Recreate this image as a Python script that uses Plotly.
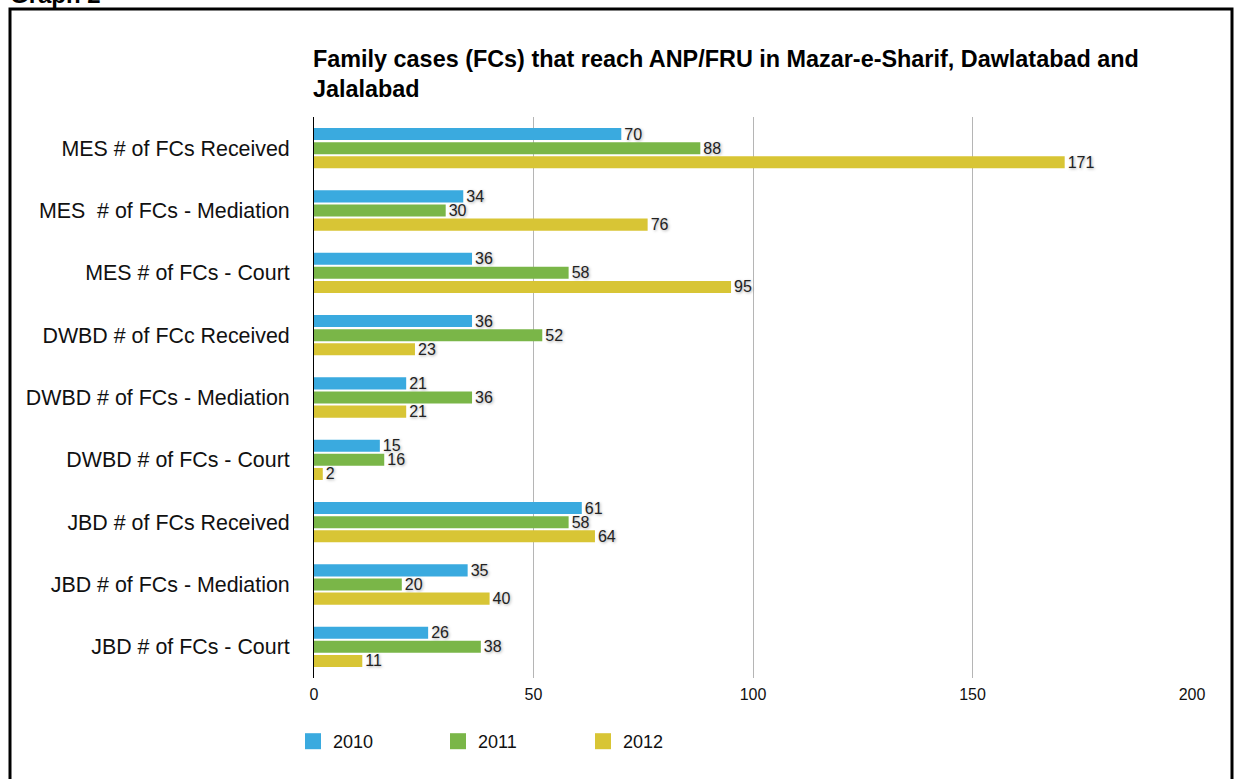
import plotly.graph_objects as go

categories = [
    "MES # of FCs Received",
    "MES \u00a0# of FCs - Mediation",
    "MES # of FCs - Court",
    "DWBD # of FCc Received",
    "DWBD # of FCs - Mediation",
    "DWBD # of FCs - Court",
    "JBD # of FCs Received",
    "JBD # of FCs - Mediation",
    "JBD # of FCs - Court",
]
series_names = ["2010", "2011", "2012"]
values_2010 = [70, 34, 36, 36, 21, 15, 61, 35, 26]
values_2011 = [88, 30, 58, 52, 36, 16, 58, 20, 38]
values_2012 = [171, 76, 95, 23, 21, 2, 64, 40, 11]
x_ticks = [0, 50, 100, 150, 200]
title_text = "Family cases (FCs) that reach ANP/FRU in Mazar-e-Sharif, Dawlatabad and<br>Jalalabad"

colors = ["#3aaadf", "#7ab648", "#d8c535"]
FONT = "Liberation Sans, Arial, Helvetica, sans-serif"

W, H = 1235, 779
ML, MR, MT, MB = 314, 43, 117, 101
PW, PH = W - ML - MR, H - MT - MB

def px_x(p):
    return (p - ML) / PW

def px_y(p):
    return (H - MB - p) / PH

fig = go.Figure()
for name, vals, col in zip(series_names, [values_2010, values_2011, values_2012], colors):
    fig.add_trace(go.Bar(
        y=categories, x=vals, name=name, orientation="h",
        marker=dict(color=col, line=dict(width=0)),
        text=[str(v) for v in vals], textposition="outside",
        constraintext="none",
        textfont=dict(family=FONT, size=16, color="#222222",
                      shadow="1px 1px 3px rgba(0,0,0,0.35)"),
        cliponaxis=False, showlegend=False, legendgroup=name,
    ))
# legend entries (larger square swatches like the reference)
for name, col in zip(series_names, colors):
    fig.add_trace(go.Scatter(
        x=[None], y=[None], mode="markers", name=name, legendgroup=name,
        marker=dict(symbol="square", size=18, color=col), showlegend=True,
    ))

fig.update_layout(
    width=W, height=H,
    margin=dict(l=ML, r=MR, t=MT, b=MB, autoexpand=False),
    paper_bgcolor="white", plot_bgcolor="white",
    barmode="group", bargap=0.32, bargroupgap=0.15,
    font=dict(family=FONT, color="#111111"),
    showlegend=True,
    legend=dict(orientation="h", x=px_x(293), xanchor="left",
                y=px_y(723), yanchor="top", itemsizing="trace",
                font=dict(family=FONT, size=18, color="#111111"),
                entrywidth=100, traceorder="normal"),
    xaxis=dict(range=[0, 200], tickvals=x_ticks, showgrid=True,
               gridcolor="#b5b5b5", gridwidth=1, zeroline=False,
               showline=False, ticks="", tickfont=dict(family=FONT, size=16, color="#111111"),
               ticklabelstandoff=5),
    yaxis=dict(autorange="reversed", showline=True, linecolor="#000000",
               linewidth=1, ticks="", showgrid=False,
               tickfont=dict(family=FONT, size=21.4, color="#111111"),
               ticklabelstandoff=19),
    annotations=[
        dict(text="<b>" + title_text.replace("<br>", "</b><br><b>") + "</b>",
             xref="paper", yref="paper", x=0, xshift=-3, y=px_y(44), xanchor="left", yanchor="top",
             align="left", showarrow=False,
             font=dict(family=FONT, size=23.4, color="#000000")),
        dict(text="<b>Graph 2</b>", xref="paper", yref="paper",
             x=px_x(8), y=px_y(10), xanchor="left", yanchor="bottom",
             showarrow=False, font=dict(family=FONT, size=24, color="#000000")),
    ],
    shapes=[
        dict(type="rect", xref="paper", yref="paper",
             x0=px_x(10), x1=px_x(1232), y0=px_y(800), y1=px_y(9),
             line=dict(color="#000000", width=3), fillcolor="rgba(0,0,0,0)", layer="above"),
    ],
)

fig.write_html("out.html", config={"displayModeBar": False},
               post_script="document.body.style.margin='0';document.body.style.overflow='hidden';")
